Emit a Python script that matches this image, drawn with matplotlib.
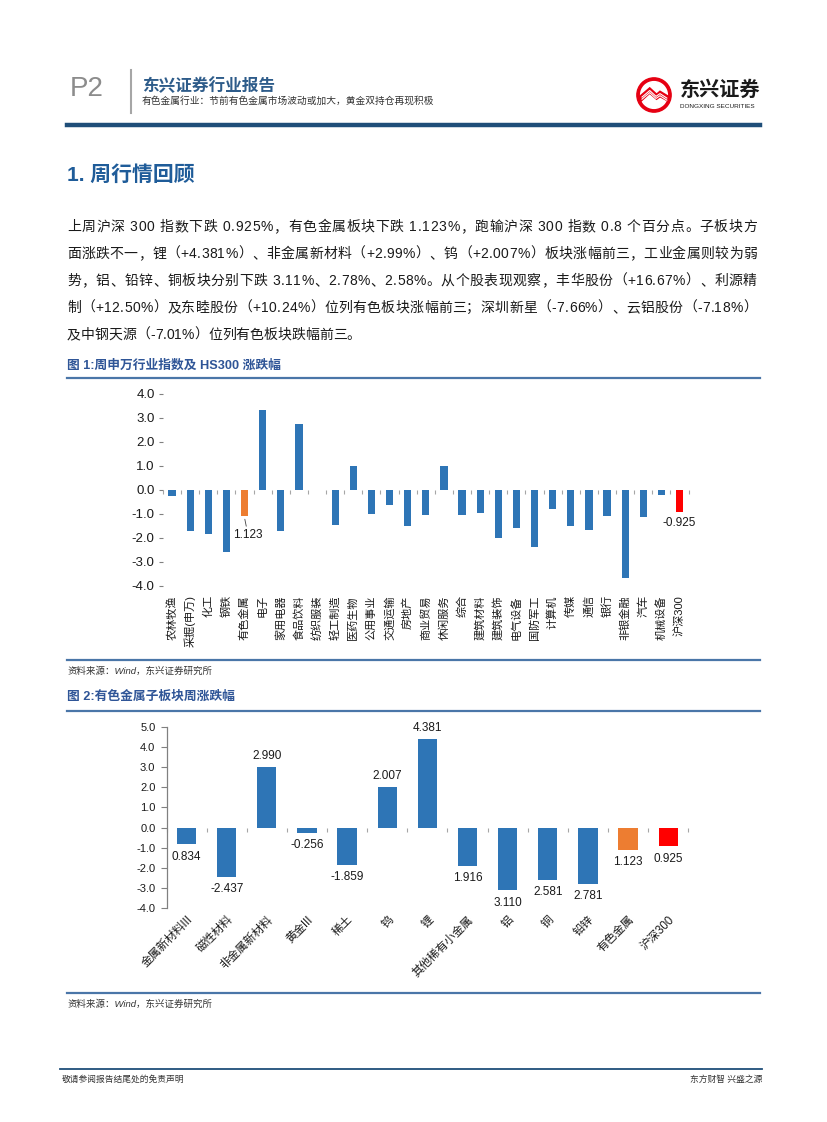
import numpy as np
import matplotlib.pyplot as plt
from matplotlib.lines import Line2D
from matplotlib.patches import Circle, Polygon
from matplotlib.ticker import FormatStrFormatter

plt.rcParams['font.family'] = ['Liberation Sans', 'Noto Sans CJK SC', 'DejaVu Sans']
plt.rcParams['axes.unicode_minus'] = False

# ---- 图1 数据: 申万行业周涨跌幅 (%)
sw_names = ['农林牧渔', '采掘(申万)', '化工', '钢铁', '有色金属', '电子', '家用电器',
            '食品饮料', '纺织服装', '轻工制造', '医药生物', '公用事业', '交通运输',
            '房地产', '商业贸易', '休闲服务', '综合', '建筑材料', '建筑装饰', '电气设备',
            '国防军工', '计算机', '传媒', '通信', '银行', '非银金融', '汽车', '机械设备',
            '沪深300']
sw_chg = [-0.28, -1.74, -1.85, -2.60, -1.123, 3.33, -1.74,
          2.75, 0.0, -1.49, 1.00, -1.03, -0.65,
          -1.53, -1.06, 1.00, -1.07, -0.99, -2.03, -1.61,
          -2.40, -0.82, -1.53, -1.69, -1.11, -3.69, -1.15, -0.24,
          -0.925]
sw_label_idx = [4, 28]
sw_label_txt = ['1.123', '-0.925']

# ---- 图2 数据: 有色金属子板块周涨跌幅 (%)
sub_names = ['金属新材料III', '磁性材料', '非金属新材料', '黄金III', '稀土', '钨', '锂',
             '其他稀有小金属', '铝', '铜', '铅锌', '有色金属', '沪深300']
sub_chg = [-0.834, -2.437, 2.990, -0.256, -1.859, 2.007, 4.381,
           -1.916, -3.110, -2.581, -2.781, -1.123, -0.925]
sub_txt = ['0.834', '-2.437', '2.990', '-0.256', '-1.859', '2.007', '4.381',
           '1.916', '3.110', '2.581', '2.781', '1.123', '0.925']

para = [
    '上周沪深 300 指数下跌 0.925%，有色金属板块下跌 1.123%，跑输沪深 300 指数 0.8 个百分点。子板块方',
    '面涨跌不一，锂（+4.381%）、非金属新材料（+2.99%）、钨（+2.007%）板块涨幅前三，工业金属则较为弱',
    '势，铝、铅锌、铜板块分别下跌 3.11%、2.78%、2.58%。从个股表现观察，丰华股份（+16.67%）、利源精',
    '制（+12.50%）及东睦股份（+10.24%）位列有色板块涨幅前三；深圳新星（-7.66%）、云铝股份（-7.18%）',
    '及中钢天源（-7.01%）位列有色板块跌幅前三。',
]

BLUE = '#2E75B6'
ORANGE = '#ED7D31'
RED = '#FF0000'
TITLE_BLUE = '#2F5597'
RULE_BLUE = '#4A76A8'
DARK_BLUE = '#1F4E79'


def bar_colors(names):
    out = []
    for n in names:
        if n == '有色金属':
            out.append(ORANGE)
        elif n == '沪深300':
            out.append(RED)
        else:
            out.append(BLUE)
    return out


W, H = 827, 1122
fig = plt.figure(figsize=(8.27, 11.22), dpi=100)
renderer = fig.canvas.get_renderer()


def fx(x):
    return x / W


def fy(y):
    return 1 - y / H


def hline(x0, x1, y, color, lw):
    fig.add_artist(Line2D([fx(x0), fx(x1)], [fy(y), fy(y)], color=color, lw=lw,
                          transform=fig.transFigure))


def text_w(s, **kw):
    t = fig.text(0, 0, s, **kw)
    w = t.get_window_extent(renderer).width
    t.remove()
    return w


def justified(line, x0, x1, y, **kw):
    # spread the characters so the line fills x0..x1 (px)
    chars = list(line)
    space = text_w('x x', **kw) - text_w('xx', **kw)
    widths = [space if c == ' ' else text_w(c, **kw) for c in chars]
    extra = 0.0
    if x1 is not None and len(chars) > 1:
        extra = (x1 - x0 - sum(widths)) / (len(chars) - 1)
    x = x0
    for c, w in zip(chars, widths):
        if c != ' ':
            fig.text(fx(x), fy(y), c, va='center', ha='left', **kw)
        x += w + extra


def zero_ticks(ax, n, ylo, yhi):
    # small grey marks between categories on the zero line
    sec = ax.secondary_xaxis((0 - ylo) / (yhi - ylo))
    sec.set_alignment('bottom')
    sec.set_xticks(np.arange(-0.5, n, 1.0))
    sec.tick_params(axis='x', direction='out', length=3, width=0.8, color='#a6a6a6',
                    labelbottom=False, labeltop=False)
    for s in sec.spines.values():
        s.set_visible(False)


# ---- 页眉
fig.text(fx(70), fy(89), 'P2', fontsize=20, color='#8c8c8c', va='center', ha='left')
fig.add_artist(Line2D([fx(131), fx(131)], [fy(70), fy(113)], color='#a6a6a6', lw=1.5,
                      transform=fig.transFigure))
fig.text(fx(142), fy(86), '东兴证券行业报告', fontsize=12, color='#2E5C8A',
         fontweight='bold', va='center', ha='left')
fig.text(fx(142), fy(101), '有色金属行业：节前有色金属市场波动或加大，黄金双持仓再现积极',
         fontsize=7.0, color='#333333', va='center', ha='left')

# logo
lax = fig.add_axes([fx(636), fy(113), 36 / W, 36 / H])
lax.set_xlim(-1.05, 1.05)
lax.set_ylim(-1.05, 1.05)
lax.set_aspect('equal')
lax.axis('off')
lax.add_patch(Circle((0, 0), 1.0, color='#E60012'))
lax.add_patch(Circle((0, 0), 0.78, color='white'))
lax.add_patch(Polygon([(-0.8, -0.05), (-0.25, 0.42), (0.15, 0.05), (0.35, 0.22),
                       (0.8, -0.05), (0.8, -0.35), (0.35, -0.1), (0.15, -0.25),
                       (-0.25, 0.1), (-0.8, -0.4)], color='#E60012'))
for dy in (0.0, -0.12):
    lax.plot([-0.7, -0.25, 0.12, 0.35, 0.75], [dy - 0.12, dy + 0.26, dy - 0.08, dy + 0.08, dy - 0.18],
             color='white', lw=0.8)
fig.text(fx(680), fy(90), '东兴证券', fontsize=14.5, fontweight='bold', color='#1a1a1a',
         va='center', ha='left')
fig.text(fx(680), fy(106), 'DONGXING SECURITIES', fontsize=4.6, color='#1a1a1a',
         va='center', ha='left')

hline(67, 760, 125, DARK_BLUE, 3.2)

# ---- 正文
fig.text(fx(67), fy(175), '1. 周行情回顾', fontsize=15, fontweight='bold',
         color='#1F5C99', va='center', ha='left')
for i, line in enumerate(para):
    right = 757 if i < len(para) - 1 else None
    justified(line, 67, right, 227 + 27 * i, fontsize=10, color='#1a1a1a')

# ---- 图1
fig.text(fx(67), fy(366), '图 1:周申万行业指数及 HS300 涨跌幅', fontsize=9.2,
         fontweight='bold', color=TITLE_BLUE, va='center', ha='left')
hline(67, 760, 378, RULE_BLUE, 1.6)
hline(67, 760, 660, RULE_BLUE, 1.6)
fig.text(fx(67), fy(671), '资料来源：Wind，东兴证券研究所', fontsize=6.8, style='italic',
         color='#333333', va='center', ha='left')

ax1 = fig.add_axes([fx(163), fy(585.5), 525.6 / W, 192 / H])
x1 = np.arange(len(sw_names))
ax1.bar(x1, sw_chg, width=0.4, color=bar_colors(sw_names))
ax1.set_xlim(-0.5, len(sw_names) - 0.5)
ax1.set_ylim(-4, 4)
ax1.set_yticks(np.arange(-4, 4.01, 1.0))
ax1.yaxis.set_major_formatter(FormatStrFormatter('%.1f'))
for s in ax1.spines.values():
    s.set_visible(False)
ax1.tick_params(axis='y', length=3, width=0.8, color='#808080', pad=3, labelsize=9.5,
                labelcolor='#1a1a1a')
ax1.set_xticks(x1)
ax1.set_xticklabels(sw_names, rotation=90, fontsize=8, color='#1a1a1a')
ax1.tick_params(axis='x', length=0, pad=7)
zero_ticks(ax1, len(sw_names), -4, 4)
for i, t in zip(sw_label_idx, sw_label_txt):
    v = sw_chg[i]
    if t.startswith('-'):
        ax1.annotate(t, (i, v), xytext=(0, -4), textcoords='offset points',
                     ha='center', va='top', fontsize=8.5, color='#1a1a1a')
    else:
        ax1.annotate(t, (i, v - 0.06), xytext=(2.5, -8), textcoords='offset points',
                     ha='center', va='top', fontsize=8.5, color='#1a1a1a',
                     arrowprops=dict(arrowstyle='-', color='#404040', lw=0.6,
                                     shrinkA=0, shrinkB=1))

# ---- 图2
fig.text(fx(67), fy(697), '图 2:有色金属子板块周涨跌幅', fontsize=9.2,
         fontweight='bold', color=TITLE_BLUE, va='center', ha='left')
hline(67, 760, 710.5, RULE_BLUE, 1.6)
hline(67, 760, 992.7, RULE_BLUE, 1.6)
fig.text(fx(67), fy(1004), '资料来源：Wind，东兴证券研究所', fontsize=6.8, style='italic',
         color='#333333', va='center', ha='left')

ax2 = fig.add_axes([fx(166.5), fy(908.3), 521.8 / W, (908.3 - 726.7) / H])
x2 = np.arange(len(sub_names))
ax2.bar(x2, sub_chg, width=0.48, color=bar_colors(sub_names))
ax2.set_xlim(-0.5, len(sub_names) - 0.5)
ax2.set_ylim(-4, 5)
ax2.set_yticks(np.arange(-4, 5.01, 1.0))
ax2.yaxis.set_major_formatter(FormatStrFormatter('%.1f'))
for k, s in ax2.spines.items():
    s.set_visible(k == 'left')
ax2.spines['left'].set_color('#808080')
ax2.spines['left'].set_linewidth(0.9)
ax2.tick_params(axis='y', length=4, width=0.8, color='#808080', pad=4, labelsize=8,
                labelcolor='#1a1a1a')
ax2.set_xticks(x2)
ax2.set_xticklabels(sub_names, rotation=45, ha='right', rotation_mode='anchor',
                    fontsize=8.3, color='#1a1a1a')
ax2.tick_params(axis='x', length=0, pad=4)
zero_ticks(ax2, len(sub_names), -4, 5)
for i, (v, t) in enumerate(zip(sub_chg, sub_txt)):
    if v >= 0:
        ax2.annotate(t, (i, v), xytext=(0, 3.5), textcoords='offset points',
                     ha='center', va='bottom', fontsize=8.5, color='#1a1a1a')
    else:
        ax2.annotate(t, (i, v), xytext=(0, -4.5), textcoords='offset points',
                     ha='center', va='top', fontsize=8.5, color='#1a1a1a')

# ---- 页脚
hline(60, 762, 1069, DARK_BLUE, 1.3)
fig.text(fx(62), fy(1079), '敬请参阅报告结尾处的免责声明', fontsize=6.3, color='#333333',
         va='center', ha='left')
fig.text(fx(762), fy(1079), '东方财智 兴盛之源', fontsize=6.3, color='#333333',
         va='center', ha='right')

fig.savefig('out.png', dpi=100)
